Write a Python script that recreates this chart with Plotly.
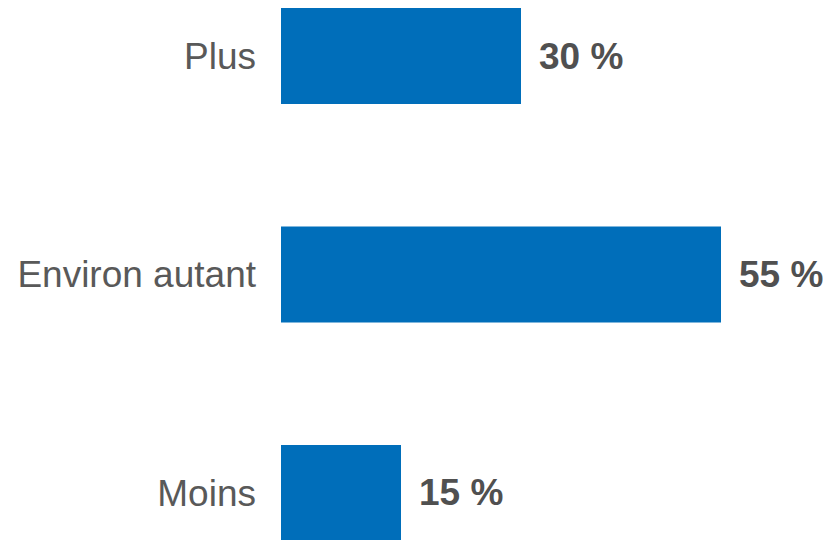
import plotly.graph_objects as go

categories = ["Plus", "Environ autant", "Moins"]
values = [30, 55, 15]
value_labels = ["30 %", "55 %", "15 %"]

bar_color = "#006EBA"
label_color = "#595959"
value_color = "#505050"
font_family = "Arial"

fig = go.Figure()
fig.add_trace(go.Bar(
    x=values,
    y=categories,
    orientation="h",
    marker=dict(color=bar_color, line=dict(width=0)),
    width=0.44,
    hoverinfo="skip",
))

for cat, val, lab in zip(categories, values, value_labels):
    fig.add_annotation(
        x=val, y=cat, text=f"<b>{lab}</b>", showarrow=False,
        xanchor="left", yanchor="middle", xshift=16, yshift=0,
        font=dict(family=font_family, size=37, color=value_color),
    )

fig.update_layout(
    width=831, height=540,
    margin=dict(l=273, r=0, t=0, b=0),
    paper_bgcolor="white", plot_bgcolor="white",
    showlegend=False,
    font=dict(family=font_family),
    xaxis=dict(range=[0, 69.75], visible=False, fixedrange=True),
    yaxis=dict(
        categoryorder="array", categoryarray=categories,
        range=[2.252, -0.2197],
        showgrid=False, zeroline=False, showline=False,
        ticks="", ticklabelstandoff=24,
        tickfont=dict(family=font_family, size=37, color=label_color),
        automargin=False,
    ),
)

fig.write_html("out.html")
